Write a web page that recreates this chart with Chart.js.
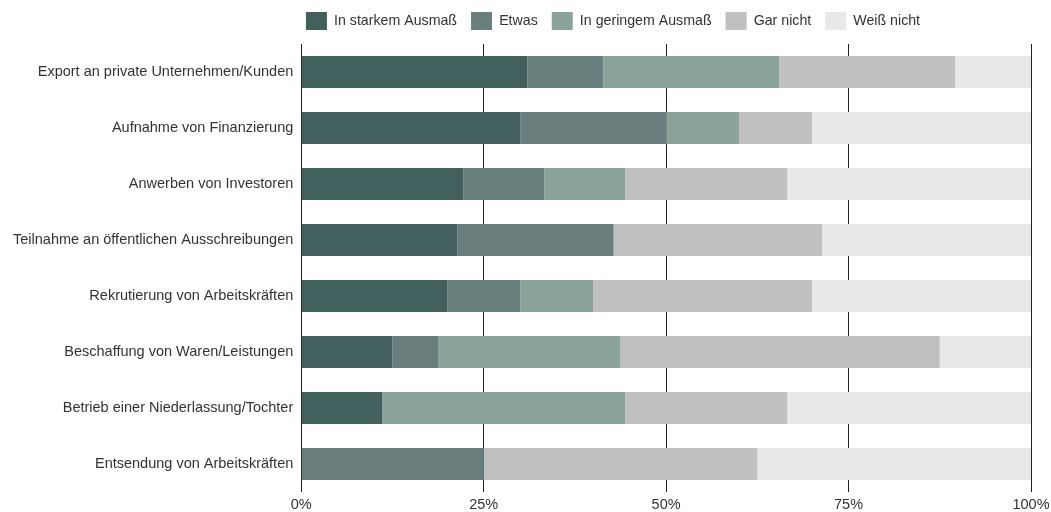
<!DOCTYPE html>
<html>
<head>
<meta charset="utf-8">
<script src="https://cdn.jsdelivr.net/npm/chart.js@4"></script>
<style>
  html, body { margin: 0; padding: 0; background: #fff; }
  #wrap { width: 1051px; height: 512px; }
</style>
</head>
<body>
<div id="wrap"><canvas id="chart"></canvas></div>
<script>
// Share of firms per answer, by area of activity (percent)
const categories = [
  'Export an private Unternehmen/Kunden',
  'Aufnahme von Finanzierung',
  'Anwerben von Investoren',
  'Teilnahme an öffentlichen Ausschreibungen',
  'Rekrutierung von Arbeitskräften',
  'Beschaffung von Waren/Leistungen',
  'Betrieb einer Niederlassung/Tochter',
  'Entsendung von Arbeitskräften'
];
const seriesNames = ['In starkem Ausmaß', 'Etwas', 'In geringem Ausmaß', 'Gar nicht', 'Weiß nicht'];
const starkem  = [31.0, 30, 22.2, 21.4, 20, 12.5, 11.1, 0];
const etwas    = [10.4, 20, 11.1, 21.4, 10, 6.25, 0, 25];
const geringem = [24.1, 10, 11.1, 0, 10, 25, 33.3, 0];
const garNicht = [24.1, 10, 22.2, 28.6, 30, 43.75, 22.2, 37.5];
const weissNicht = [10.4, 30, 33.4, 28.6, 30, 12.5, 33.4, 37.5];
const xTicks = [0, 25, 50, 75, 100];

const colors = ['#41605e', '#687f7e', '#8aa398', '#c0c0c0', '#e8e8e8'];
const values = [starkem, etwas, geringem, garNicht, weissNicht];

const font = { family: '"Liberation Sans", Arial, sans-serif', size: 14.5 };
const legendFont = { family: '"Liberation Sans", Arial, sans-serif', size: 14.2 };

// legend sits a bit right of the canvas centre and leaves a gap above the bars
const legendTweak = {
  id: 'legendTweak',
  afterInit(chart) {
    const legend = chart.legend;
    const fit = legend.fit;
    legend.fit = function () {
      fit.call(this);
      this.height += 4;
    };
  },
  afterLayout(chart) {
    chart.legend.left += 85;
    chart.legend.right += 85;
  }
};

new Chart(document.getElementById('chart'), {
  type: 'bar',
  data: {
    labels: categories,
    datasets: seriesNames.map((name, i) => ({
      label: name,
      data: values[i],
      backgroundColor: colors[i],
      borderWidth: 0,
      barPercentage: 0.57,
      categoryPercentage: 1
    }))
  },
  options: {
    indexAxis: 'y',
    responsive: true,
    maintainAspectRatio: false,
    animation: false,
    layout: { padding: { left: 5, right: 0, top: -2, bottom: 0 } },
    plugins: {
      tooltip: { enabled: false },
      legend: {
        position: 'top',
        labels: {
          font: legendFont,
          color: '#333',
          boxWidth: 21,
          boxHeight: 18,
          padding: 14
        }
      }
    },
    scales: {
      x: {
        stacked: true,
        min: 0,
        max: 100,
        afterBuildTicks: (axis) => { axis.ticks = xTicks.map((v) => ({ value: v })); },
        afterFit: (axis) => {
          axis.height = 20;
          axis.paddingRight = 20;
        },
        grid: { color: '#222', lineWidth: 1, drawTicks: false },
        border: { display: false },
        ticks: { font, color: '#333', padding: 4.5, callback: (v) => v + '%' }
      },
      y: {
        stacked: true,
        grid: { display: false, drawTicks: false },
        border: { display: false },
        ticks: { font, color: '#333', padding: 8 }
      }
    }
  },
  plugins: [legendTweak]
});
</script>
</body>
</html>
